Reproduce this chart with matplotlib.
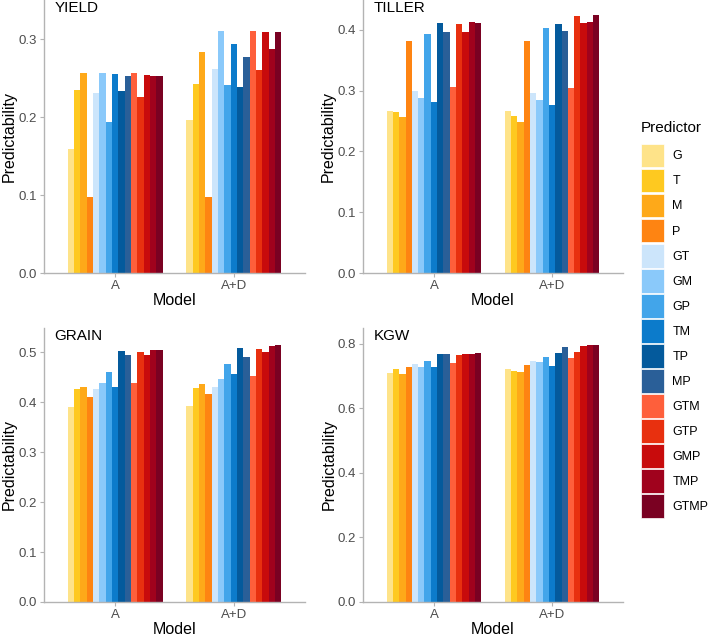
import matplotlib
matplotlib.use("Agg")
import matplotlib.pyplot as plt
from matplotlib.patches import Patch
import numpy as np

plt.rcParams['font.family'] = ['Liberation Sans', 'DejaVu Sans']

models = ["A", "A+D"]
predictors = ["G", "T", "M", "P", "GT", "GM", "GP", "TM", "TP", "MP",
              "GTM", "GTP", "GMP", "TMP", "GTMP"]
colors = ["#FEE389", "#FEC920", "#FEA919", "#FE8412", "#CCE5FB", "#8AC9FA",
          "#42A5EA", "#0C7BCB", "#045A9C", "#2A5F98", "#FE5F3B", "#E8300F",
          "#C80B0C", "#A0021D", "#7A0122"]

yield_a = [0.159, 0.234, 0.256, 0.098, 0.231, 0.257, 0.194, 0.255, 0.233, 0.253,
           0.256, 0.226, 0.254, 0.252, 0.252]
yield_ad = [0.196, 0.242, 0.283, 0.098, 0.262, 0.310, 0.241, 0.293, 0.239, 0.277,
            0.310, 0.260, 0.309, 0.287, 0.309]
tiller_a = [0.267, 0.265, 0.256, 0.381, 0.300, 0.288, 0.393, 0.281, 0.411, 0.396,
            0.306, 0.409, 0.396, 0.412, 0.411]
tiller_ad = [0.267, 0.258, 0.249, 0.381, 0.296, 0.285, 0.403, 0.276, 0.410, 0.398,
             0.304, 0.423, 0.411, 0.412, 0.424]
grain_a = [0.390, 0.426, 0.430, 0.410, 0.426, 0.439, 0.461, 0.431, 0.503, 0.495,
           0.438, 0.501, 0.495, 0.505, 0.504]
grain_ad = [0.392, 0.429, 0.436, 0.416, 0.431, 0.446, 0.476, 0.457, 0.508, 0.491,
            0.453, 0.507, 0.501, 0.512, 0.515]
kgw_a = [0.711, 0.722, 0.705, 0.729, 0.738, 0.728, 0.746, 0.727, 0.769, 0.768,
         0.740, 0.766, 0.767, 0.769, 0.770]
kgw_ad = [0.721, 0.717, 0.712, 0.734, 0.747, 0.743, 0.759, 0.730, 0.770, 0.790,
          0.755, 0.776, 0.792, 0.796, 0.796]

panels = [
    ("YIELD", yield_a, yield_ad, 0.35, [0.0, 0.1, 0.2, 0.3]),
    ("TILLER", tiller_a, tiller_ad, 0.449, [0.0, 0.1, 0.2, 0.3, 0.4]),
    ("GRAIN", grain_a, grain_ad, 0.549, [0.0, 0.1, 0.2, 0.3, 0.4, 0.5]),
    ("KGW", kgw_a, kgw_ad, 0.849, [0.0, 0.2, 0.4, 0.6, 0.8]),
]

W, H = 709, 637
fig = plt.figure(figsize=(W / 100, H / 100), dpi=100)

# panel boxes in pixels: left, top, right, bottom
boxes = [(44, 0, 305, 273), (363, 0, 623, 273),
         (44, 328, 305, 602), (363, 328, 623, 602)]

axis_grey = "#B3B3B3"
tick_col = "#4D4D4D"
n = len(predictors)
group_w = 0.8
bw = group_w / n

for (name, va, vad, ytop, yticks), (l, t, r, b) in zip(panels, boxes):
    ax = fig.add_axes([l / W, 1 - b / H, (r - l) / W, (b - t) / H])
    x = np.arange(len(models))
    for i in range(n):
        off = -group_w / 2 + bw * (i + 0.5)
        ax.bar(x + off, [va[i], vad[i]], width=bw, color=colors[i], linewidth=0)
    ax.set_xlim(-0.6, 1.6)
    ax.set_ylim(0, ytop)
    ax.set_xticks(x)
    ax.set_xticklabels(models)
    ax.set_yticks(yticks)
    ax.set_yticklabels(["{:.1f}".format(v) for v in yticks])
    for s in ["top", "right"]:
        ax.spines[s].set_visible(False)
    for s in ["left", "bottom"]:
        ax.spines[s].set_color(axis_grey)
        ax.spines[s].set_linewidth(1.0)
    ax.tick_params(colors=axis_grey, labelcolor=tick_col, labelsize=9.5,
                   length=3, pad=2)
    ax.set_xlabel("Model", fontsize=11.5, labelpad=1)
    ax.set_ylabel("Predictability", fontsize=11.5, labelpad=1)
    ax.text(0.04, 0.995, name, transform=ax.transAxes, fontsize=11,
            va="top", ha="left")

handles = [Patch(facecolor=c, edgecolor="white", linewidth=0.5) for c in colors]
leg = fig.legend(handles, predictors, title="Predictor", loc="upper left",
                 bbox_to_anchor=(638 / W, 1 - 119 / H), frameon=False,
                 fontsize=9, title_fontsize=11, handlelength=1.85,
                 handleheight=2.52, labelspacing=0.12, handletextpad=0.7,
                 borderaxespad=0, borderpad=0.2)
leg._legend_box.align = "left"
leg._legend_box.sep = 6

fig.savefig("out.png", dpi=100)
